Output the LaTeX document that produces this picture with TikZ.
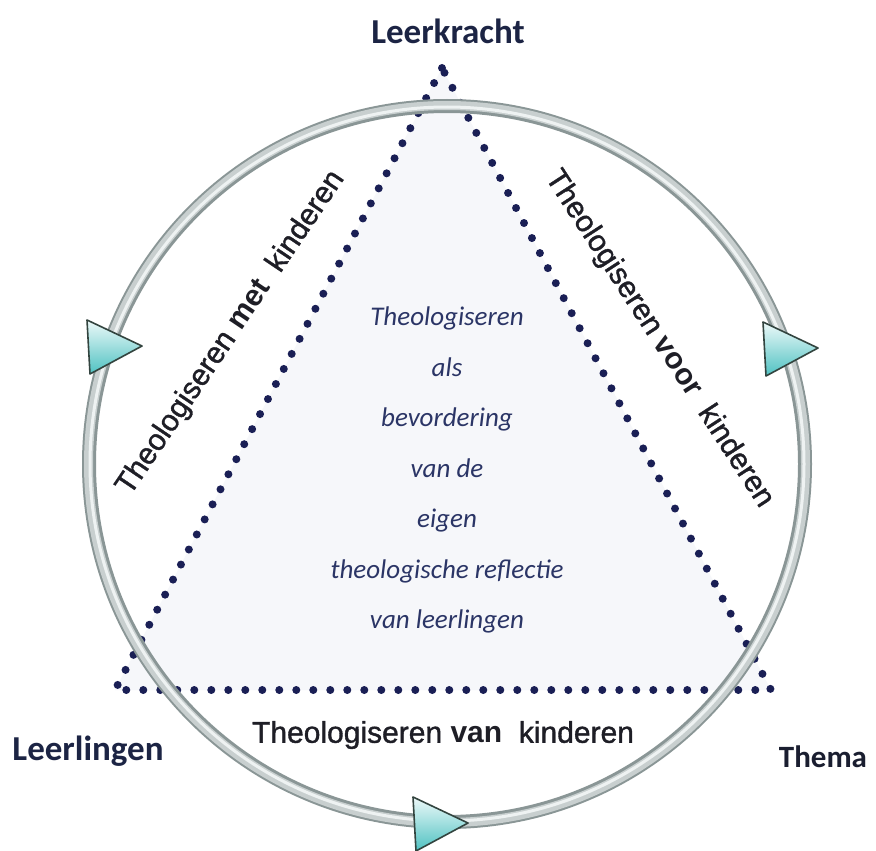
\documentclass[tikz,border=0pt]{standalone}
\usepackage{fontspec}
\setmainfont{Carlito}
\newfontfamily\labelfont[UprightFeatures={FakeBold=1.2}]{Liberation Sans}
\usetikzlibrary{calc}
\definecolor{navy}{HTML}{1C2444}
\definecolor{inktext}{HTML}{2B3566}
\definecolor{dotblue}{HTML}{1A1F55}
\definecolor{ringedge}{HTML}{8A9696}
\definecolor{ringmid}{HTML}{C8CFCF}
\definecolor{ringlight}{HTML}{EEF2F2}
\definecolor{tealdark}{HTML}{4EC2C2}
\definecolor{teallight}{HTML}{EEF9F9}
\definecolor{arrowline}{HTML}{33443F}
\definecolor{trifill}{HTML}{F6F7FA}
\definecolor{sidetext}{HTML}{1E1E26}
\definecolor{themetext}{HTML}{1A1E30}

\begin{document}
\begin{tikzpicture}[x=1pt,y=-1pt,
  corner/.style={font=\fontsize{35}{40}\selectfont\bfseries, text=navy, inner sep=0pt},
  sidelabel/.style={font=\labelfont\fontsize{30}{34}\selectfont, text=sidetext, inner sep=0pt},
  centertext/.style={font=\itshape\fontsize{27}{50.5}\selectfont, text=inktext, align=center, inner sep=0pt},
  dotline/.style={draw=dotblue, line width=8pt, line cap=round, dash pattern=on 0pt off 17pt},
  turnmark/.style={draw=arrowline, line width=1.6pt, line join=round,
                   top color=teallight, bottom color=tealdark}
]
\useasboundingbox (0,0) rectangle (876,851);
\fill[white] (0,0) rectangle (876,851);

% the triangle: teacher on top, pupils bottom left, theme bottom right
\coordinate (apex) at (442,68);
\coordinate (bl) at (115,690);
\coordinate (br) at (771,690);
\fill[trifill] (apex) -- (bl) -- (br) -- cycle;
\draw[dotline] (apex) -- (bl) -- (br) -- cycle;

% the ring of the cycle
\coordinate (O) at (447,464);
\draw[ringedge, line width=14pt] (O) circle[radius=358pt];
\draw[ringmid, line width=9pt] (O) circle[radius=358.5pt];
\draw[ringlight, line width=3pt] (O) circle[radius=357pt];

% arrowheads on the ring
\coordinate (turnL) at (115,346);
\coordinate (turnR) at (791,348);
\coordinate (turnB) at (441,823);
\foreach \c in {turnL,turnR,turnB}
  \draw[turnmark, shift={(\c)}] (-28,-26) -- (27,0) -- (-25,28) -- cycle;

% corner labels
\node[corner] (teacher) at (448,31) {Leerkracht};
\node[corner] (pupils) at (88,751) {Leerlingen};
\node[corner, font=\fontsize{31}{36}\selectfont\bfseries, text=themetext] (theme) at (823,757) {Thema};

% labels along the sides
\node[sidelabel, rotate=56] (withkids) at (231,333) {Theologiseren \textbf{met}\ \ kinderen};
\node[sidelabel, rotate=-57] (forkids) at (659,339) {Theologiseren \textbf{voor}\ \ kinderen};
\node[sidelabel] (ofkids) at (443,735) {Theologiseren \textbf{van}\ \ kinderen};

% text in the middle
\node[centertext] (core) at (447,470) {Theologiseren\\als\\bevordering\\van de\\eigen\\theologische reflectie\\van leerlingen};
\end{tikzpicture}
\end{document}
